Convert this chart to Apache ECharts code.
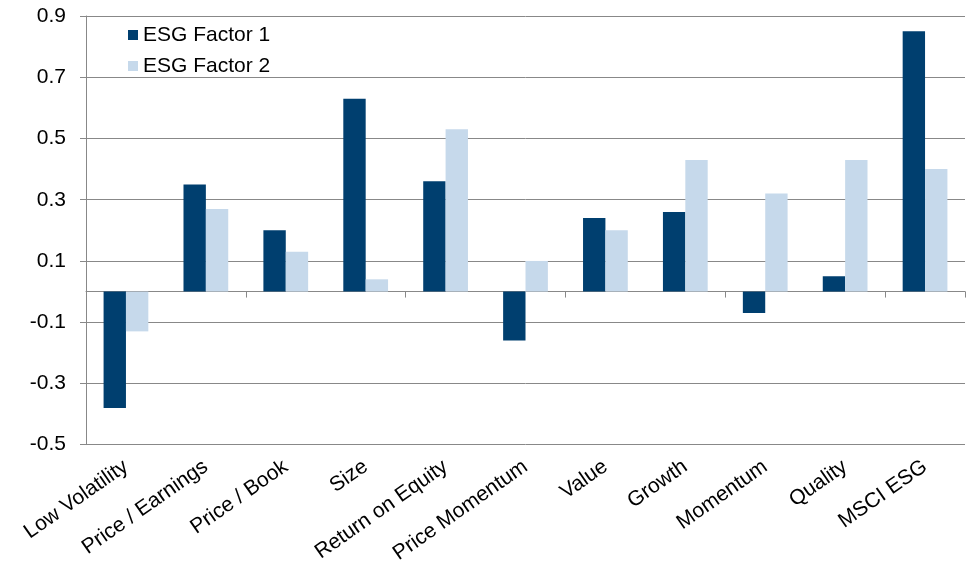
<!DOCTYPE html>
<html>
<head>
<meta charset="utf-8">
<script src="https://cdn.jsdelivr.net/npm/echarts@6/dist/echarts.min.js"></script>
<style>
html,body{margin:0;padding:0;background:#fff;}
#chart{width:969px;height:566px;}
</style>
</head>
<body>
<div id="chart"></div>
<script>
var categories = ['Low Volatility','Price / Earnings','Price / Book','Size','Return on Equity','Price Momentum','Value','Growth','Momentum','Quality','MSCI ESG'];
var factor1 = [-0.38, 0.35, 0.20, 0.63, 0.36, -0.16, 0.24, 0.26, -0.07, 0.05, 0.85];
var factor2 = [-0.13, 0.27, 0.13, 0.04, 0.53, 0.10, 0.20, 0.43, 0.32, 0.43, 0.40];
var yTicks = [-0.5, -0.3, -0.1, 0.1, 0.3, 0.5, 0.7, 0.9];
var seriesNames = ['ESG Factor 1', 'ESG Factor 2'];

var FONT = '"Liberation Sans", Arial, sans-serif';
var chart = echarts.init(document.getElementById('chart'), null, {renderer: 'canvas'});
chart.setOption({
  animation: false,
  backgroundColor: '#ffffff',
  grid: {left: 86, right: 4, top: 16, bottom: 121, containLabel: false},
  legend: {
    orient: 'vertical',
    left: 123, top: 19,
    itemWidth: 10, itemHeight: 10, itemGap: 9,
    icon: 'rect',
    textStyle: {fontFamily: FONT, fontSize: 21, color: '#000', lineHeight: 22},
    data: seriesNames
  },
  xAxis: [{
    type: 'category',
    data: categories,
    axisLine: {onZero: true, lineStyle: {color: '#888888', width: 1}},
    axisTick: {show: true, length: 6, lineStyle: {color: '#888888'}},
    axisLabel: {show: false},
    splitLine: {show: false}
  }, {
    type: 'category',
    data: categories,
    position: 'bottom',
    axisLine: {show: false, onZero: false},
    axisTick: {show: false},
    axisLabel: {show: true, rotate: 35, margin: 20, fontFamily: FONT, fontSize: 21, color: '#000', interval: 0},
    splitLine: {show: false}
  }],
  yAxis: {
    type: 'value',
    min: -0.5, max: 0.9,
    axisLine: {show: true, lineStyle: {color: '#888888', width: 1}},
    axisTick: {show: true, length: 6, inside: false, customValues: yTicks, lineStyle: {color: '#888888'}},
    axisLabel: {customValues: yTicks, margin: 20, fontFamily: FONT, fontSize: 21, color: '#000',
      formatter: function (v) { return v.toFixed(1); }},
    splitLine: {show: true, customValues: yTicks, lineStyle: {color: '#888888', width: 1}}
  },
  series: [{
    name: seriesNames[0], type: 'bar', data: factor1,
    xAxisIndex: 0,
    barGap: '0%', barCategoryGap: '44%',
    itemStyle: {color: '#003f6f'}
  }, {
    name: seriesNames[1], type: 'bar', data: factor2,
    xAxisIndex: 0,
    barGap: '0%', barCategoryGap: '44%',
    itemStyle: {color: '#c6d9eb'}
  }]
});
</script>
</body>
</html>
